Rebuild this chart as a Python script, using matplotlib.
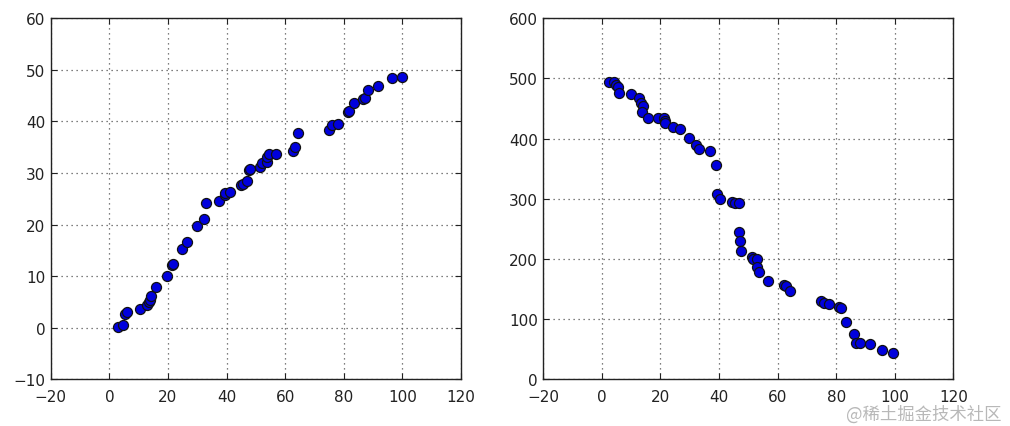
import matplotlib
matplotlib.use("Agg")
import matplotlib.pyplot as plt

# Left panel data
x_left = [3.1, 4.5, 5.5, 5.9, 10.4, 12.8, 13.6, 13.9, 14.2, 15.8, 19.8, 21.4, 21.8,
          24.9, 26.6, 29.8, 32.2, 33.0, 37.3, 39.3, 39.5, 41.0, 44.8, 45.5, 47.1,
          47.5, 48.0, 51.4, 52.2, 53.7, 53.7, 54.4, 56.9, 62.7, 63.2, 64.4, 75.0,
          76.0, 78.0, 81.4, 81.9, 83.5, 86.7, 87.2, 88.3, 91.8, 96.3, 99.8]
y_left = [0.13, 0.45, 2.7, 3.0, 3.56, 4.5, 5.0, 5.3, 6.1, 7.9, 10.1, 12.1, 12.3,
          15.3, 16.7, 19.65, 21.0, 24.2, 24.6, 25.7, 26.1, 26.3, 27.7, 27.9, 28.4,
          30.6, 30.7, 31.2, 31.9, 32.1, 33.2, 33.7, 33.6, 34.3, 35.0, 37.7, 38.4,
          39.4, 39.6, 41.8, 42.0, 43.6, 44.3, 44.5, 46.1, 46.8, 48.5, 48.7]

# Right panel data
x_right = [2.4, 4.0, 4.9, 5.6, 5.8, 10.1, 12.6, 13.4, 13.9, 13.8, 15.8, 19.1, 21.2,
           21.6, 21.7, 24.2, 26.6, 29.7, 32.0, 33.0, 36.8, 38.8, 39.3, 40.4, 44.4,
           45.4, 46.8, 46.8, 47.1, 47.6, 51.1, 51.6, 53.0, 52.9, 53.8, 56.8, 62.1,
           62.9, 64.3, 74.7, 76.0, 77.5, 80.9, 81.8, 83.3, 86.1, 86.8, 88.2, 91.7,
           95.7, 99.4]
y_right = [493.6, 493.6, 489, 485, 476, 474, 468, 460, 455, 444, 435, 434, 434,
           430, 425.5, 419, 416, 400.6, 389.5, 383, 379, 356, 308, 300, 295,
           292.5, 292.5, 244, 230, 213, 204, 200, 200, 186, 178, 164, 157,
           155, 146, 130, 127, 125, 120, 118, 95, 75, 60, 60, 58,
           49, 44]

x_ticks = [-20, 0, 20, 40, 60, 80, 100, 120]
y_ticks_left = [-10, 0, 10, 20, 30, 40, 50, 60]
y_ticks_right = [0, 100, 200, 300, 400, 500, 600]

fig = plt.figure(figsize=(10.1, 4.27), dpi=100)
fig.patch.set_facecolor("white")

ax1 = fig.add_axes([0.0502, 0.1094, 0.4063, 0.8454])
ax2 = fig.add_axes([0.5379, 0.1094, 0.4060, 0.8454])

def style(ax, yticks):
    ax.set_xlim(-20, 120)
    ax.set_xticks(x_ticks)
    ax.set_ylim(yticks[0], yticks[-1])
    ax.set_yticks(yticks)
    ax.grid(True, color="#555555", linestyle=(0, (1, 3)), linewidth=0.9)
    ax.set_axisbelow(True)
    ax.tick_params(direction="in", top=True, right=True, length=4, width=0.8,
                   labelsize=11, colors="#222222", pad=4)
    ax.tick_params(axis="x", pad=7)
    for s in ax.spines.values():
        s.set_linewidth(1.0)
        s.set_color("#222222")

ax1.scatter(x_left, y_left, s=52, c="#0000dd", edgecolors="#111111", linewidths=0.9, zorder=3)
ax2.scatter(x_right, y_right, s=52, c="#0000dd", edgecolors="#111111", linewidths=0.9, zorder=3)
style(ax1, y_ticks_left)
style(ax2, y_ticks_right)

fig.text(0.992, 0.030, "@稀土掘金技术社区", ha="right", va="center", fontsize=12.5,
         color="#b8b8b8", family=["Noto Sans CJK SC", "DejaVu Sans"])

fig.savefig("out.png", dpi=100, facecolor="white")
